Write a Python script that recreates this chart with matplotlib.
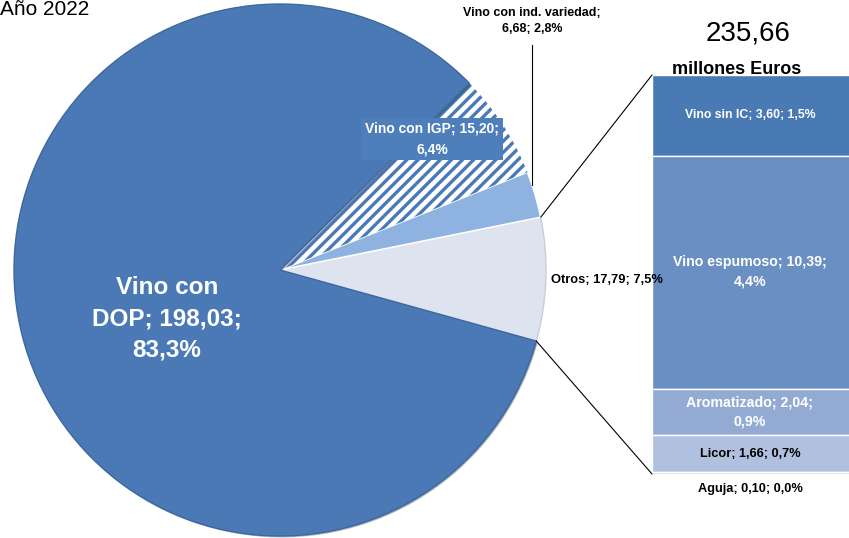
import matplotlib
matplotlib.use("Agg")
import matplotlib.pyplot as plt
from matplotlib.patches import ConnectionPatch
import matplotlib.patheffects as pe
import numpy as np

W, H = 849, 538

# pie: main categories (millones de euros)
pie_labels = ["Otros", "Vino con ind. variedad", "Vino con IGP", "Vino con DOP"]
pie_values = [17.79, 6.68, 15.20, 198.03]
pie_pct = ["7,5%", "2,8%", "6,4%", "83,3%"]
pie_colors = ["#dde3ef", "#8eb3e0", "#ffffff", "#4a79b6"]

# bar: breakdown of "Otros"
bar_labels = ["Vino sin IC", "Vino espumoso", "Aromatizado", "Licor", "Aguja"]
bar_values = [3.60, 10.39, 2.04, 1.66, 0.10]
bar_pct = ["1,5%", "4,4%", "0,9%", "0,7%", "0,0%"]
bar_colors = ["#4a7ab4", "#6a8fc3", "#93abd2", "#afc1de", "#c5d3ea"]

total_text = "235,66"
FONT = "Liberation Sans"


def fr(x, y):
    """pixel (from top-left) -> figure fraction"""
    return x / W, 1 - y / H


def num(v):
    return f"{v:.2f}".replace(".", ",")


plt.rcParams["hatch.linewidth"] = 2.4
fig = plt.figure(figsize=(W / 100, H / 100), dpi=100)

# ---- pie ----
cx, cy, r = 280, 270, 266
ax = fig.add_axes([(cx - r) / W, (H - cy - r) / H, 2 * r / W, 2 * r / H])
wedges, _ = ax.pie(pie_values, colors=pie_colors, startangle=-15.5,
                   counterclock=True, radius=1,
                   wedgeprops=dict(edgecolor="white", linewidth=1.2))
ax.set_xlim(-1, 1)
ax.set_ylim(-1, 1)
ax.axis("off")
wedges[0].set_edgecolor("#c9ced8")
wedges[0].set_linewidth(1.0)
# hatched IGP slice
wedges[2].set_facecolor("white")
wedges[2].set_edgecolor("#4a79b6")
wedges[2].set_hatch("///")
wedges[2].set_linewidth(0)
wedges[3].set_path_effects([pe.SimplePatchShadow(offset=(1, -1), alpha=0.35),
                            pe.Normal()])
wedges[3].set_edgecolor("#3d689f")
wedges[3].set_linewidth(1.0)

# ---- bar of pie ----
bx0, bx1, by0, by1 = 652, 862, 75, 474
axb = fig.add_axes([bx0 / W, (H - by1) / H, (bx1 - bx0) / W, (by1 - by0) / H])
bottoms = np.concatenate([[0], np.cumsum(bar_values)[:-1]])
bars = axb.bar([0] * len(bar_values), bar_values, bottom=bottoms, width=1,
               color=bar_colors, edgecolor="white", linewidth=1.0, align="edge")
for b in bars:
    b.set_path_effects([pe.SimplePatchShadow(offset=(-3, -2), alpha=0.3),
                        pe.Normal()])
axb.set_xlim(0, 1)
axb.set_ylim(sum(bar_values), 0)
axb.axis("off")

# connector lines from Otros wedge to the bar
th1, th2 = np.radians(wedges[0].theta1), np.radians(wedges[0].theta2)
for th, yb in [(th2, 0), (th1, sum(bar_values))]:
    con = ConnectionPatch(xyA=(np.cos(th), np.sin(th)), coordsA=ax.transData,
                          xyB=(0, yb), coordsB=axb.transData,
                          color="black", linewidth=0.8)
    fig.add_artist(con)

# ---- texts ----
fig.text(*fr(0, 15), "Año 2022", fontsize=15, family=FONT, ha="left",
         va="baseline")
fig.text(*fr(748, 34), total_text, fontsize=20, family=FONT,
         ha="center", va="center")
fig.text(*fr(737, 70), "millones Euros", fontsize=13, family=FONT,
         weight="bold", ha="center", va="center")

fig.text(*fr(167, 319), f"Vino con\nDOP; {num(pie_values[3])};\n{pie_pct[3]}",
         fontsize=17.5, family=FONT, weight="bold", color="white",
         ha="center", va="center", linespacing=1.45)
fig.text(*fr(432, 139), f"{pie_labels[2]}; {num(pie_values[2])};\n{pie_pct[2]}",
         fontsize=10, family=FONT, weight="bold", color="white",
         ha="center", va="center", linespacing=1.55,
         bbox=dict(boxstyle="square,pad=0.3", fc="#4f7fbb", ec="none"))
fig.text(*fr(532, 21), f"{pie_labels[1]};\n{num(pie_values[1])}; {pie_pct[1]}",
         fontsize=9, family=FONT, weight="bold", color="black",
         ha="center", va="center", linespacing=1.45)
fig.add_artist(plt.Line2D([532 / W, 532 / W], [1 - 45 / H, 1 - 185 / H],
                          color="black", linewidth=0.8))
fig.text(*fr(551, 280), f"{pie_labels[0]}; {num(pie_values[0])}; {pie_pct[0]}",
         fontsize=9.3, family=FONT, weight="bold", color="black",
         ha="left", va="center")

bar_text_pos = [115, 272, 412, 454, 489]
bar_text_col = ["white", "white", "white", "black", "black"]
bar_text_fs = [8.8, 10.2, 10.2, 9.2, 9.2]
bar_text = [
    f"{bar_labels[0]}; {num(bar_values[0])}; {bar_pct[0]}",
    f"{bar_labels[1]}; {num(bar_values[1])};\n{bar_pct[1]}",
    f"{bar_labels[2]}; {num(bar_values[2])};\n{bar_pct[2]}",
    f"{bar_labels[3]}; {num(bar_values[3])}; {bar_pct[3]}",
    f"{bar_labels[4]}; {num(bar_values[4])}; {bar_pct[4]}",
]
for t, y, c, fs in zip(bar_text, bar_text_pos, bar_text_col, bar_text_fs):
    fig.text(*fr(750, y), t, fontsize=fs, family=FONT, weight="bold", color=c,
             ha="center", va="center", linespacing=1.5)

fig.savefig("out.png", dpi=100)
